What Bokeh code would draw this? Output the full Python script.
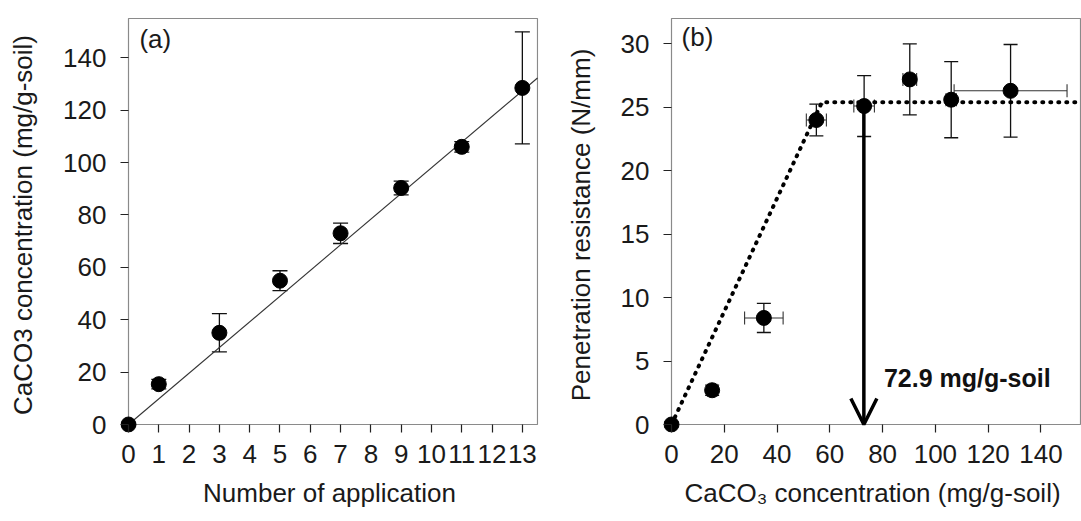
from bokeh.plotting import figure
from bokeh.layouts import row
from bokeh.models import (ColumnDataSource, Whisker, TeeHead, Arrow, OpenHead,
                          Range1d, FixedTicker, Label)
from bokeh.embed import file_html
from bokeh.resources import INLINE

FONT = "Liberation Sans"

# ---------------- data: panel (a) ----------------
applications = [0, 1, 3, 5, 7, 9, 11, 13]
caco3 = [0.0, 15.4, 35.0, 54.9, 73.0, 90.3, 106.0, 128.5]
caco3_err = [0.5, 1.8, 7.3, 3.8, 3.9, 2.6, 2.0, 21.4]
fit_slope = 9.8
a_xticks = list(range(0, 14))
a_yticks = [0, 20, 40, 60, 80, 100, 120, 140]
a_xmax, a_ymax = 13.5, 155

# ---------------- data: panel (b) ----------------
penetration = [0.0, 2.7, 8.4, 24.0, 25.1, 27.2, 25.6, 26.3]
penetration_err = [0.2, 0.4, 1.15, 1.25, 2.4, 2.8, 3.0, 3.65]
break_x = 57.0
plateau = 25.4
threshold = 72.9
b_xticks = [0, 20, 40, 60, 80, 100, 120, 140]
b_yticks = [0, 5, 10, 15, 20, 25, 30]
b_xmax, b_ymax = 155, 32

PAD = 8          # px of free space left/below the zero lines so origin markers are whole
FRAME_W, FRAME_H = 409, 406   # px between zero lines and max lines
AXIS_GREY = "#8a8a8a"


def make_fig(width, left, xmax, ymax):
    sx = FRAME_W / xmax
    sy = FRAME_H / ymax
    p = figure(width=width, height=521,
               x_range=Range1d(-PAD / sx, xmax + 1 / sx),
               y_range=Range1d(-PAD / sy, ymax + 1 / sy),
               output_backend="svg", toolbar_location=None,
               min_border_left=left, min_border_right=width - left - PAD - FRAME_W - 1,
               min_border_top=17, min_border_bottom=521 - 17 - 1 - FRAME_H - PAD)
    p.grid.visible = False
    p.outline_line_color = None
    p.background_fill_color = "white"
    p.border_fill_color = "white"
    for ax in p.axis:
        ax.axis_line_color = None
        ax.major_tick_line_color = "#222222"
        ax.major_tick_line_width = 1.2
        ax.major_tick_in = PAD
        ax.major_tick_out = 0
        ax.minor_tick_line_color = None
        ax.major_label_text_font = FONT
        ax.major_label_text_font_size = "26px"
        ax.major_label_text_color = "#1a1a1a"
        ax.axis_label_text_font = FONT
        ax.axis_label_text_font_size = "26px"
        ax.axis_label_text_font_style = "normal"
        ax.axis_label_text_color = "#1a1a1a"
    p.xaxis.major_label_standoff = 12
    p.xaxis.axis_label_standoff = 12
    p.yaxis.major_label_standoff = 14
    p.yaxis.axis_label_standoff = 22
    # plot box drawn from the zero lines to the range maxima
    p.line([0, xmax, xmax, 0, 0], [0, 0, ymax, ymax, 0],
           line_color=AXIS_GREY, line_width=1.2)
    return p


def whisker(src, base, lo, hi, dim, size, color, width):
    return Whisker(source=src, base=base, lower=lo, upper=hi, dimension=dim,
                   line_color=color, line_width=width,
                   lower_head=TeeHead(size=size, line_color=color, line_width=width),
                   upper_head=TeeHead(size=size, line_color=color, line_width=width))


# ================= panel (a) =================
pa = make_fig(540, 120, a_xmax, a_ymax)
pa.xaxis.ticker = FixedTicker(ticks=a_xticks)
pa.yaxis.ticker = FixedTicker(ticks=a_yticks)
pa.xaxis.axis_label = "Number of application"
pa.yaxis.axis_label = "CaCO3 concentration (mg/g-soil)"

src_a = ColumnDataSource(dict(
    x=applications, y=caco3,
    lo=[v - e for v, e in zip(caco3, caco3_err)],
    hi=[v + e for v, e in zip(caco3, caco3_err)],
))
pa.line([applications[0], a_xmax], [0, fit_slope * a_xmax],
        line_color="#333333", line_width=1.1)
pa.add_layout(whisker(src_a, "x", "lo", "hi", "height", 15, "#111111", 1.3))
pa.scatter("x", "y", source=src_a, size=15, color="black")
pa.add_layout(Label(x=0.36, y=153, text="(a)", text_baseline="top", text_align="left",
                    text_font=FONT, text_font_size="26px", text_color="#1a1a1a"))

# ================= panel (b) =================
pb = make_fig(541, 123, b_xmax, b_ymax)
pb.xaxis.ticker = FixedTicker(ticks=b_xticks)
pb.yaxis.ticker = FixedTicker(ticks=b_yticks)
pb.xaxis.axis_label = "CaCO\u2083 concentration (mg/g-soil)"
pb.yaxis.axis_label = "Penetration resistance (N/mm)"

src_b = ColumnDataSource(dict(
    x=caco3, y=penetration,
    xlo=[v - e for v, e in zip(caco3, caco3_err)],
    xhi=[v + e for v, e in zip(caco3, caco3_err)],
    ylo=[v - e for v, e in zip(penetration, penetration_err)],
    yhi=[v + e for v, e in zip(penetration, penetration_err)],
))

pb.line([0, break_x, b_xmax], [0, plateau, plateau], line_color="black", line_width=4,
        line_dash="1 7", line_cap="round")
pb.add_layout(whisker(src_b, "x", "ylo", "yhi", "height", 14, "#111111", 1.3))
pb.add_layout(whisker(src_b, "y", "xlo", "xhi", "width", 13, "#333333", 1.1))
pb.add_layout(Arrow(x_start=threshold, y_start=plateau, x_end=threshold, y_end=0,
                    line_color="black", line_width=3.5,
                    end=OpenHead(size=26, line_color="black", line_width=3.5)))
pb.scatter("x", "y", source=src_b, size=15, color="black")
pb.add_layout(Label(x=80.5, y=3.7, text=f"{threshold} mg/g-soil", text_baseline="alphabetic",
                    text_align="left", text_font=FONT, text_font_size="25px",
                    text_font_style="bold", text_color="#111111"))
pb.add_layout(Label(x=3.8, y=31.7, text="(b)", text_baseline="top", text_align="left",
                    text_font=FONT, text_font_size="26px", text_color="#1a1a1a"))

layout = row(pa, pb)
open("out.html", "w").write(file_html(layout, INLINE))
